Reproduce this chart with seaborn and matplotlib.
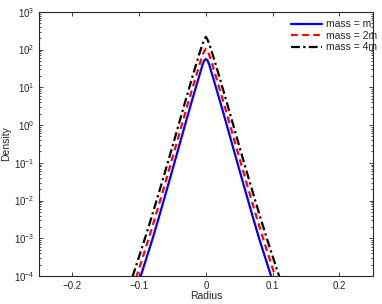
import numpy as np
import pandas as pd
import matplotlib
matplotlib.use("Agg")
import matplotlib.pyplot as plt
import matplotlib.ticker as mticker
import seaborn as sns

# radius grid and densities for each mass
radius = [-0.11, -0.10, -0.09, -0.08, -0.07, -0.06, -0.05, -0.04, -0.03, -0.02, -0.01,
          -0.005, -0.0025, 0.0, 0.0025, 0.005, 0.01, 0.02, 0.03, 0.04, 0.05, 0.06,
          0.07, 0.08, 0.09, 0.10, 0.11]

dens_m = [2.24e-5, 7.41e-5, 2.63e-4, 9.55e-4, 3.8e-3, 1.58e-2, 6.61e-2, 0.282, 1.20, 5.01, 20.0,
          39.8, 51.3, 56.2, 51.3, 39.8, 20.0, 5.01, 1.20, 0.282, 6.61e-2, 1.58e-2,
          3.8e-3, 9.55e-4, 2.63e-4, 7.41e-5, 2.24e-5]
dens_2m = [4.68e-5, 1.58e-4, 5.62e-4, 2.09e-3, 8.13e-3, 3.31e-2, 0.138, 0.575, 2.40, 9.77, 38.0,
           72.4, 91.2, 105, 91.2, 72.4, 38.0, 9.77, 2.40, 0.575, 0.138, 3.31e-2,
           8.13e-3, 2.09e-3, 5.62e-4, 1.58e-4, 4.68e-5]
dens_4m = [9.55e-5, 3.31e-4, 1.17e-3, 4.37e-3, 1.70e-2, 6.76e-2, 0.275, 1.15, 4.79, 19.5, 75.9,
           141, 182, 219, 182, 141, 75.9, 19.5, 4.79, 1.15, 0.275, 6.76e-2,
           1.70e-2, 4.37e-3, 1.17e-3, 3.31e-4, 9.55e-5]

labels = ["mass = m", "mass = 2m", "mass = 4m"]
colors = ["#0000ff", "#ff0000", "#000000"]
styles = ["-", (0, (3, 2)), (0, (4, 1.5, 1, 1.5))]

sns.set_style("ticks")
plt.rcParams["font.family"] = ["Liberation Sans", "DejaVu Sans"]
plt.rcParams.update({
    "xtick.direction": "in",
    "ytick.direction": "in",
    "axes.linewidth": 0.8,
    "font.size": 7,
})

df = pd.DataFrame({"radius": radius, "m": dens_m, "2m": dens_2m, "4m": dens_4m})

fig = plt.figure(figsize=(3.82, 3.04), dpi=100)
ax = fig.add_axes([0.102, 0.092, 0.874, 0.869])

for col, lab, c, ls in zip(["m", "2m", "4m"], labels, colors, styles):
    sns.lineplot(data=df, x="radius", y=col, ax=ax, color=c, linestyle=ls,
                 linewidth=1.6, label=lab)

ax.set_yscale("log")
ax.set_xlim(-0.25, 0.25)
ax.set_ylim(1e-4, 1e3)
ax.yaxis.set_minor_formatter(mticker.NullFormatter())
ax.set_xticks([-0.2, -0.1, 0, 0.1, 0.2])
ax.set_xticklabels(["\u22120.2", "\u22120.1", "0", "0.1", "0.2"])
ax.tick_params(axis="both", which="both", top=True, right=True, labelsize=7, length=3, width=0.6)
ax.tick_params(axis="y", which="minor", length=1.5)
ax.set_xlabel("Radius", fontsize=7.5, labelpad=0)
ax.set_ylabel("Density", fontsize=7.5, labelpad=2)

leg = ax.legend(loc="upper right", frameon=False, fontsize=7.5, handlelength=3.0,
                handletextpad=0.4, labelspacing=0.15, borderaxespad=0.3,
                bbox_to_anchor=(1.035, 1.0))

fig.savefig("out.png", dpi=100)
